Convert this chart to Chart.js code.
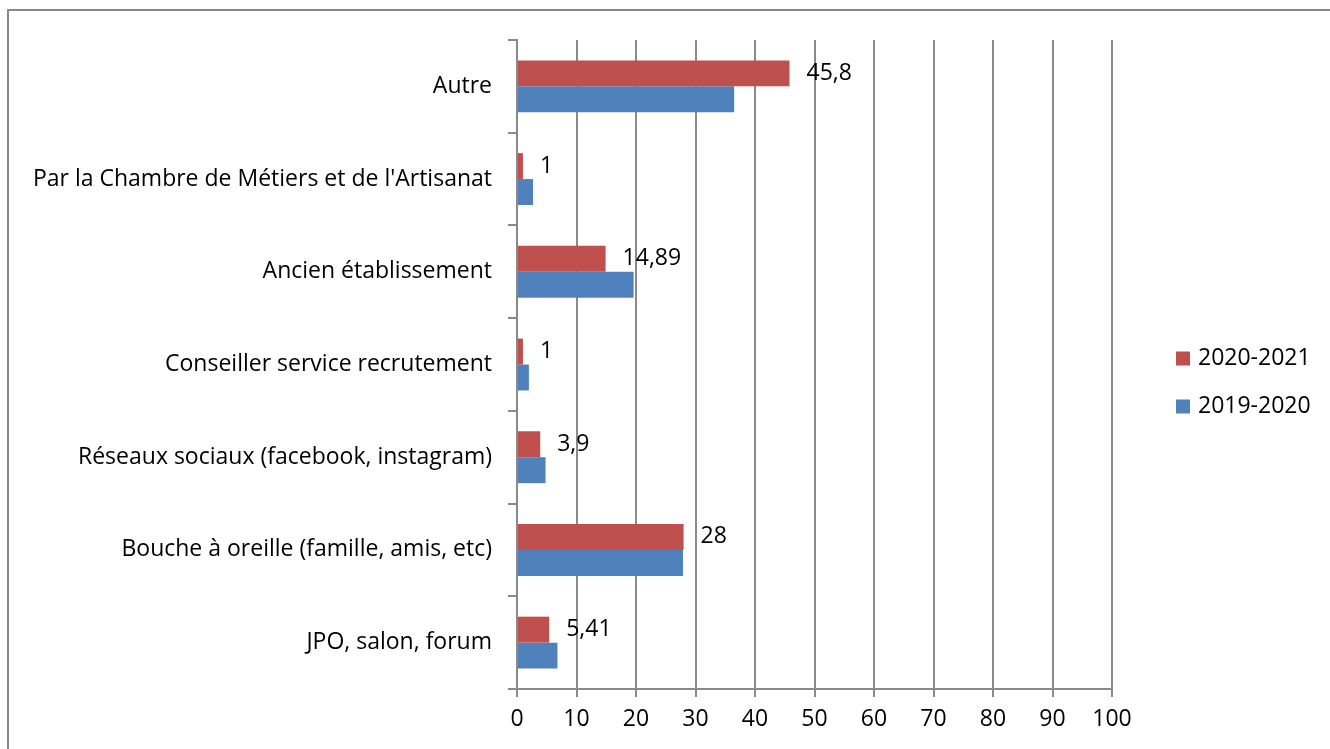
<!DOCTYPE html>
<html>
<head>
<meta charset="utf-8">
<script src="https://cdn.jsdelivr.net/npm/chart.js@4"></script>
<style>
    body { margin: 0; background: #fff; overflow: hidden; }
    #wrap { position: relative; width: 1330px; height: 749px; }
    #frame { position: absolute; left: 7px; top: 9px; width: 1400px; height: 800px;
             border-left: 2px solid #888; border-top: 2px solid #888; box-sizing: border-box; }
    canvas { position: absolute; left: 0; top: 0; }
</style>
</head>
<body>
<div id="wrap">
    <div id="frame"></div>
    <canvas id="canalChart" width="1330" height="749"></canvas>
</div>
<script>
// categories, top to bottom
const categories = [
    'Autre',
    "Par la Chambre de Métiers et de l'Artisanat",
    'Ancien établissement',
    'Conseiller service recrutement',
    'Réseaux sociaux (facebook, instagram)',
    'Bouche à oreille (famille, amis, etc)',
    'JPO, salon, forum'
];
const values2021 = [45.8, 1, 14.89, 1, 3.9, 28, 5.41];
const values2020 = [36.5, 2.7, 19.6, 2.0, 4.8, 27.9, 6.8];
const xTicks = [0, 10, 20, 30, 40, 50, 60, 70, 80, 90, 100];

const FONT = "Open Sans";
const FSIZE = 23;
const gridGrey = '#8a8a8a';

// value labels on the 2020-2021 bars (french decimal comma)
const valueLabels = {
    id: 'valueLabels',
    afterDatasetsDraw(chart) {
        const ctx = chart.ctx;
        const meta = chart.getDatasetMeta(0);
        ctx.save();
        ctx.font = FSIZE + 'px "' + FONT + '"';
        ctx.fillStyle = '#000';
        ctx.textAlign = 'left';
        ctx.textBaseline = 'middle';
        meta.data.forEach((bar, i) => {
            const txt = String(values2021[i]).replace('.', ',');
            ctx.fillText(txt, bar.x + 17, bar.y);
        });
        ctx.restore();
    }
};

// legend drawn to the right of the plot, like the office chart
const sideLegend = {
    id: 'sideLegend',
    afterDraw(chart) {
        const ctx = chart.ctx;
        const x = chart.chartArea.right + 64;
        const midY = chart.height / 2 + 8;
        const step = 48;
        ctx.save();
        ctx.font = FSIZE + 'px "' + FONT + '"';
        ctx.textAlign = 'left';
        ctx.textBaseline = 'middle';
        chart.data.datasets.forEach((ds, i) => {
            const y = midY + (i - 0.5) * step;
            ctx.fillStyle = ds.backgroundColor;
            ctx.fillRect(x, y - 7, 14, 14);
            ctx.fillStyle = '#000';
            ctx.fillText(ds.label, x + 22, y);
        });
        ctx.restore();
    }
};

const ctx = document.getElementById('canalChart').getContext('2d');
const canalChart = new Chart(ctx, {
    type: 'bar',
    data: {
        labels: categories,
        datasets: [{
            label: '2020-2021',
            data: values2021,
            backgroundColor: '#C0504D'
        }, {
            label: '2019-2020',
            data: values2020,
            backgroundColor: '#4F81BD'
        }]
    },
    options: {
        indexAxis: 'y',
        responsive: false,
        animation: false,
        layout: { padding: { left: 0, top: 40, right: 218, bottom: 0 } },
        datasets: {
            bar: { categoryPercentage: 0.56, barPercentage: 1 }
        },
        scales: {
            x: {
                min: 0,
                max: 100,
                afterBuildTicks: (scale) => { scale.ticks = xTicks.map(v => ({ value: v })); },
                afterFit: (scale) => { scale.height = 60; },
                grid: { color: gridGrey, lineWidth: 2, tickLength: 8 },
                border: { color: gridGrey, width: 2 },
                ticks: { color: '#000', padding: 9, font: { family: FONT, size: FSIZE } }
            },
            y: {
                afterFit: (scale) => { scale.width = 517; },
                grid: { drawOnChartArea: false, color: gridGrey, lineWidth: 2, tickLength: 9 },
                border: { color: gridGrey, width: 2 },
                ticks: { color: '#000', padding: 16, font: { family: FONT, size: FSIZE } }
            }
        },
        plugins: {
            legend: { display: false },
            tooltip: { enabled: false }
        }
    },
    plugins: [valueLabels, sideLegend]
});
</script>
</body>
</html>
